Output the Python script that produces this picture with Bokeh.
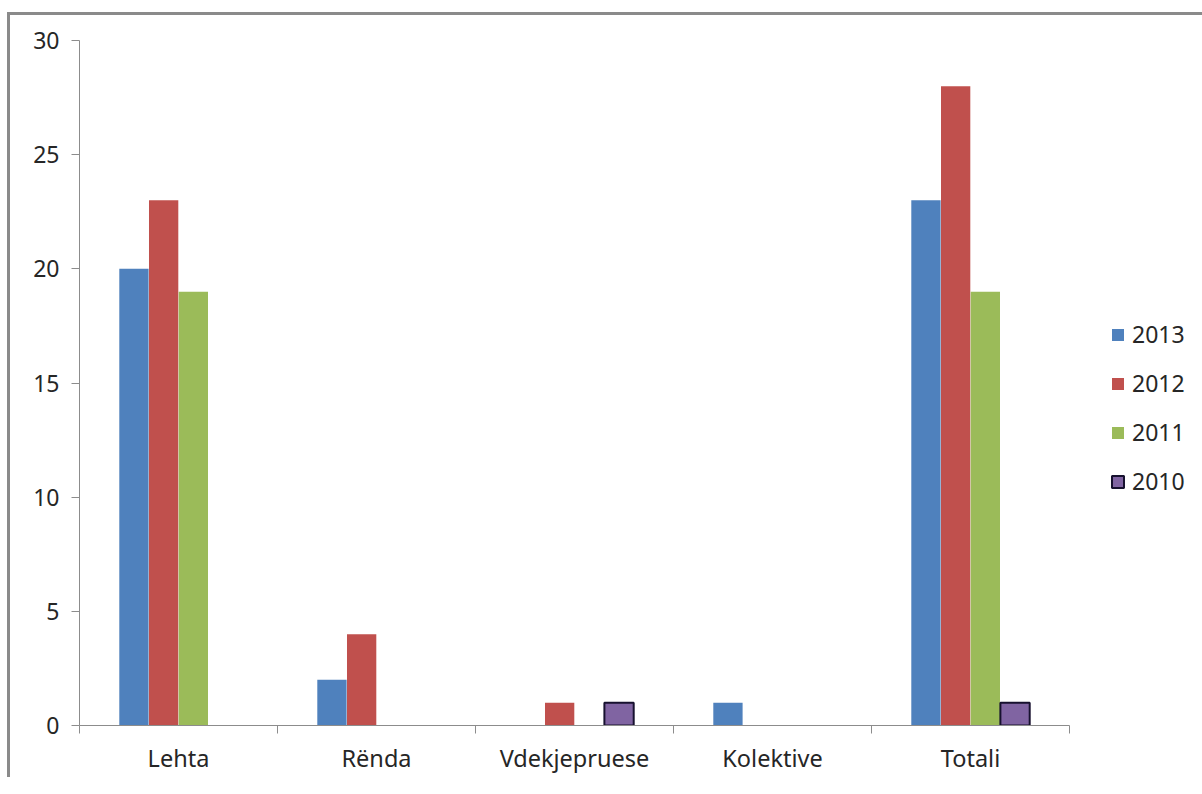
from bokeh.plotting import figure
from bokeh.models import FixedTicker, Legend, LegendItem, ColumnDataSource, Range1d
from bokeh.embed import file_html
from bokeh.resources import INLINE

categories = ["Lehta", "Rënda", "Vdekjepruese", "Kolektive", "Totali"]
years = ["2013", "2012", "2011", "2010"]
v2013 = [20, 2, 0, 1, 23]
v2012 = [23, 4, 1, 0, 28]
v2011 = [19, 0, 0, 0, 19]
v2010 = [0, 0, 1, 0, 1]
y_ticks = [0, 5, 10, 15, 20, 25, 30]

series = [v2013, v2012, v2011, v2010]
colors = ["#4F81BD", "#C0504D", "#9BBB59", "#8064A2"]
line_colors = [None, None, None, "#17112f"]
offsets = [-0.225, -0.075, 0.075, 0.225]
bar_w = 0.148

FONT = "Noto Sans"
TXT = "#262626"
AXC = "#8c8c8c"

p = figure(frame_width=990, frame_height=685,
           x_range=Range1d(0, len(categories)), y_range=Range1d(0, 30),
           output_backend="svg", toolbar_location=None,
           min_border_left=69, min_border_top=25, min_border_bottom=52,
           min_border_right=118,
           margin=(12, 0, 0, 7),
           styles={"border-top": "3px solid #8a8a8a", "border-left": "3px solid #8a8a8a"})
p.xgrid.visible = False
p.ygrid.visible = False
p.outline_line_color = None
p.background_fill_color = "white"

renderers = []
for s, vals in enumerate(series):
    xs = [i + 0.5 + offsets[s] for i, v in enumerate(vals) if v > 0]
    tops = [v for v in vals if v > 0]
    src = ColumnDataSource(dict(x=xs, top=tops))
    if line_colors[s] is None:
        r = p.vbar(x="x", top="top", bottom=0, width=bar_w, source=src,
                   fill_color=colors[s], line_color=None)
    else:
        r = p.vbar(x="x", top="top", bottom=0, width=bar_w, source=src,
                   fill_color=colors[s], line_color=line_colors[s], line_width=2)
    renderers.append(r)

centers = [i + 0.5 for i in range(len(categories))]
bounds = [float(i) for i in range(len(categories) + 1)]
xa = p.xaxis[0]
xa.ticker = FixedTicker(ticks=centers, minor_ticks=bounds)
xa.major_label_overrides = {c: name for c, name in zip(centers, categories)}
xa.major_tick_out = 0
xa.major_tick_in = 0
xa.minor_tick_out = 8
xa.minor_tick_in = 0
xa.minor_tick_line_color = AXC
xa.axis_line_color = AXC
xa.major_label_standoff = 8
xa.major_label_text_font = FONT
xa.major_label_text_font_size = "23.5px"
xa.major_label_text_color = TXT

ya = p.yaxis[0]
ya.ticker = FixedTicker(ticks=y_ticks)
ya.major_tick_out = 8
ya.major_tick_in = 0
ya.minor_tick_out = 0
ya.minor_tick_in = 0
ya.major_tick_line_color = AXC
ya.axis_line_color = AXC
ya.major_label_standoff = 12
ya.major_label_text_font = FONT
ya.major_label_text_font_size = "23px"
ya.major_label_text_color = TXT

legend = Legend(items=[LegendItem(label=y, renderers=[r]) for y, r in zip(years, renderers)],
                location=(41, 228), orientation="vertical",
                border_line_color=None, background_fill_alpha=0,
                padding=0, margin=0, spacing=17,
                glyph_width=15, glyph_height=15, label_standoff=7,
                label_text_font=FONT, label_text_font_size="23px",
                label_text_color=TXT)
p.add_layout(legend, "right")

open("out.html", "w").write(file_html(p, INLINE))
